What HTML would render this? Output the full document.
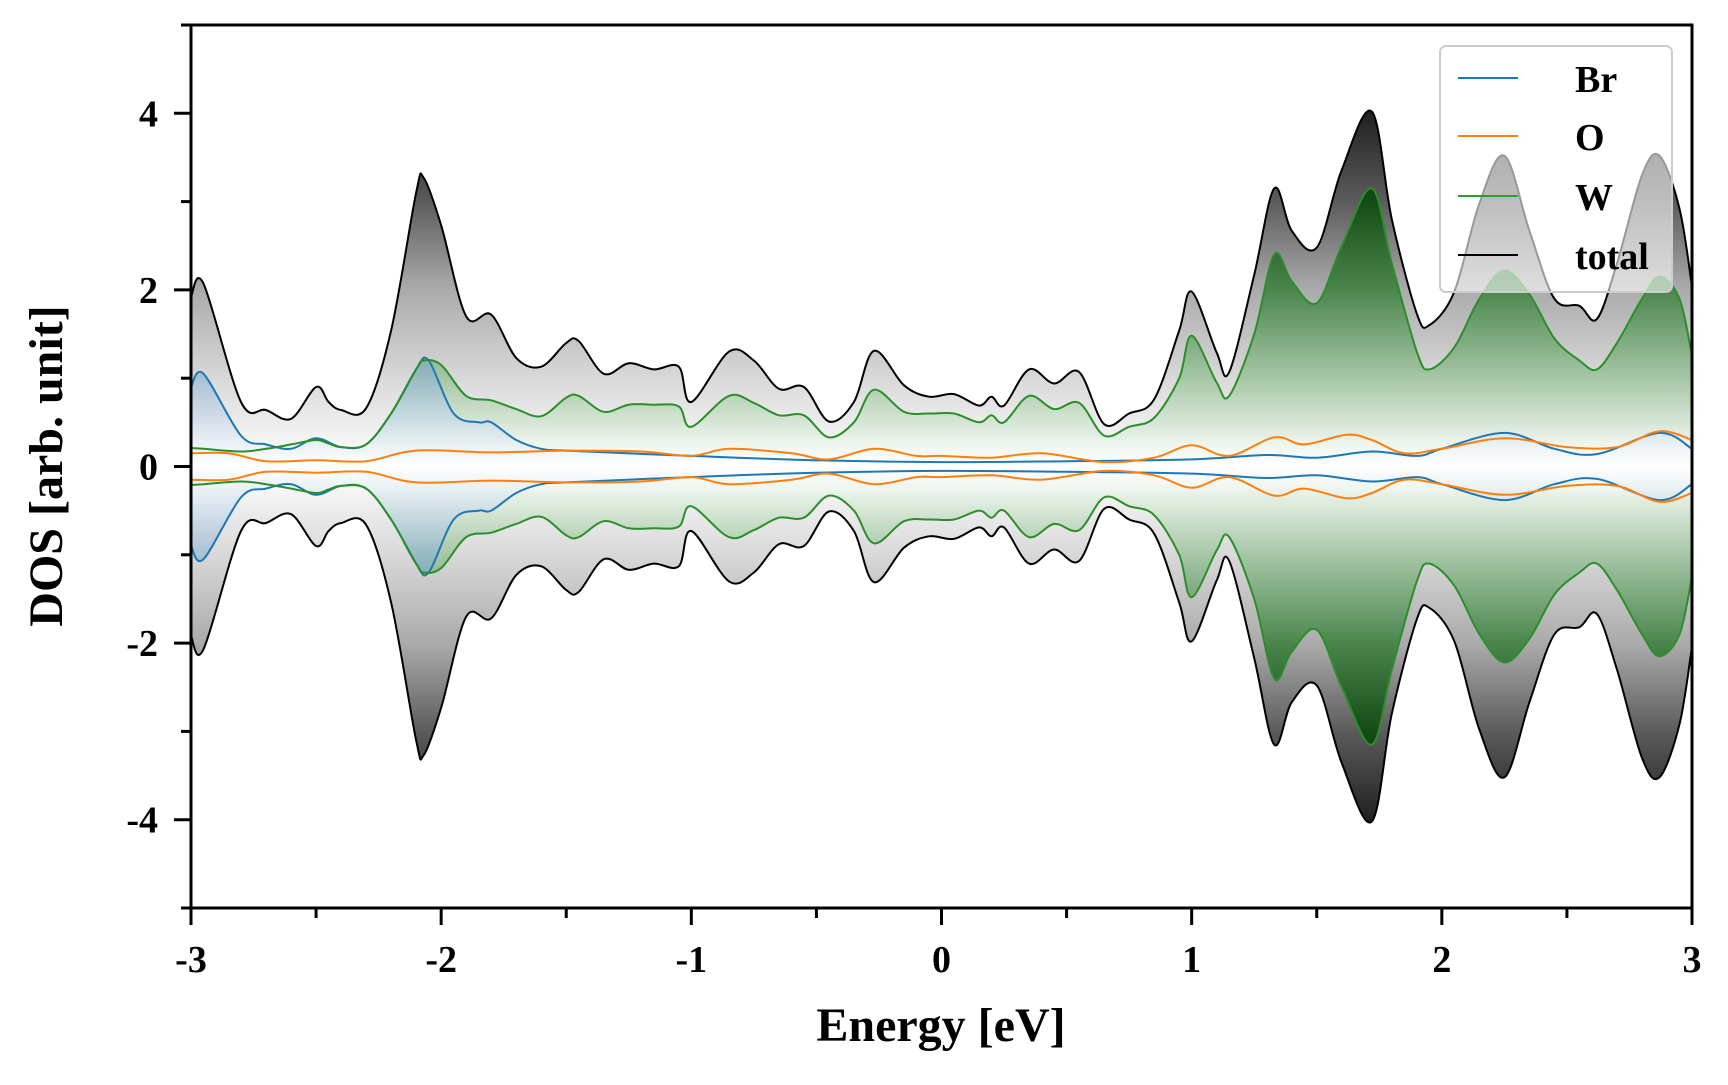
<!DOCTYPE html>
<html><head><meta charset="utf-8"><style>
html,body{margin:0;padding:0;background:#fff}
svg text{font-family:"Liberation Serif",serif;font-weight:bold}
</style></head><body>
<svg id="chart" width="1728" height="1080" viewBox="0 0 1728 1080" xmlns="http://www.w3.org/2000/svg">
<defs>
<clipPath id="plotclip"><rect x="191" y="25" width="1501" height="883"/></clipPath>
</defs>
<g id="fills" clip-path="url(#plotclip)"></g>
<g id="lines" clip-path="url(#plotclip)"></g>
<g id="axes"></g>
<text x="941" y="1041" font-size="48" text-anchor="middle">Energy [eV]</text>
<text transform="translate(62,466) rotate(-90)" font-size="48" text-anchor="middle">DOS [arb. unit]</text>
<g>
<rect x="1440" y="46" width="232" height="246" rx="6" fill="rgba(255,255,255,0.6)" stroke="#ccc" stroke-width="2"/>
<g><line x1="1458" x2="1518" y1="78" y2="78" stroke="#1f77b4" stroke-width="2"/><text x="1575" y="92" font-size="38">Br</text></g>
<g><line x1="1458" x2="1518" y1="136" y2="136" stroke="#ff7f0e" stroke-width="2"/><text x="1575" y="150" font-size="38">O</text></g>
<g><line x1="1458" x2="1518" y1="196" y2="196" stroke="#2ca02c" stroke-width="2"/><text x="1575" y="210" font-size="38">W</text></g>
<g><line x1="1458" x2="1518" y1="255" y2="255" stroke="#000" stroke-width="2"/><text x="1575" y="269" font-size="38">total</text></g>
</g>
</svg>
<script>
const energies=[-3,-2.95,-2.8,-2.7,-2.6,-2.5,-2.45,-2.4,-2.3,-2.2,-2.1,-2.07,-2.0,-1.9,-1.8,-1.7,-1.6,-1.5,-1.45,-1.35,-1.25,-1.15,-1.05,-1.0,-0.85,-0.75,-0.65,-0.55,-0.45,-0.35,-0.27,-0.15,-0.05,0.05,0.15,0.2,0.25,0.35,0.45,0.55,0.65,0.75,0.85,0.95,1.0,1.1,1.15,1.25,1.33,1.4,1.5,1.6,1.72,1.8,1.9,1.95,2.05,2.15,2.25,2.35,2.45,2.55,2.62,2.7,2.8,2.87,2.95,3.0];
const totalDos=[1.92,2.07,0.73,0.64,0.54,0.9,0.73,0.64,0.66,1.54,3.1,3.27,2.73,1.7,1.72,1.23,1.13,1.4,1.42,1.05,1.17,1.1,1.13,0.73,1.3,1.2,0.88,0.9,0.51,0.73,1.31,0.92,0.79,0.82,0.69,0.79,0.69,1.1,0.94,1.07,0.48,0.6,0.76,1.54,1.98,1.29,1.07,2.17,3.15,2.67,2.48,3.36,4.02,2.8,1.73,1.6,1.98,2.98,3.52,2.67,1.9,1.82,1.67,2.3,3.3,3.52,2.92,2.04];
const wDos=[0.21,0.2,0.17,0.2,0.25,0.3,0.26,0.22,0.25,0.6,1.1,1.2,1.15,0.8,0.75,0.65,0.57,0.78,0.8,0.62,0.7,0.7,0.68,0.45,0.8,0.72,0.58,0.58,0.33,0.5,0.87,0.62,0.6,0.6,0.5,0.58,0.5,0.8,0.65,0.72,0.35,0.45,0.55,1.0,1.48,0.95,0.8,1.5,2.4,2.1,1.85,2.5,3.15,2.3,1.3,1.1,1.35,1.9,2.22,1.95,1.45,1.2,1.1,1.4,1.9,2.15,1.9,1.25];
const brEnergies=[-3,-2.95,-2.8,-2.7,-2.6,-2.5,-2.4,-2.3,-2.2,-2.1,-2.05,-1.95,-1.85,-1.8,-1.7,-1.6,-1.5,-1.0,-0.5,0,0.5,1.0,1.3,1.5,1.72,1.9,2.0,2.25,2.45,2.62,2.87,3.0];
const brDos=[0.9,1.05,0.35,0.25,0.2,0.32,0.22,0.25,0.6,1.1,1.2,0.6,0.5,0.5,0.3,0.2,0.18,0.12,0.07,0.05,0.06,0.08,0.13,0.1,0.17,0.12,0.2,0.38,0.2,0.14,0.38,0.2];
const oEnergies=[-3,-2.85,-2.7,-2.5,-2.3,-2.1,-1.8,-1.5,-1.2,-1.0,-0.85,-0.6,-0.45,-0.27,-0.1,0,0.2,0.4,0.65,0.85,1.0,1.15,1.33,1.45,1.62,1.72,1.85,2.0,2.25,2.5,2.7,2.87,3.0];
const oDos=[0.15,0.15,0.06,0.07,0.06,0.18,0.16,0.18,0.17,0.12,0.2,0.15,0.08,0.2,0.12,0.12,0.1,0.15,0.05,0.1,0.24,0.12,0.33,0.25,0.36,0.3,0.15,0.2,0.32,0.22,0.22,0.4,0.3];
const xTicks=[-3,-2,-1,0,1,2,3];
const xTickLabels=["-3","-2","-1","0","1","2","3"];
const yTicks=[-4,-2,0,2,4];
const yTickLabels=["-4","-2","0","2","4"];
const xMinor=[-2.5,-1.5,-0.5,0.5,1.5,2.5];
const yMinor=[-5,-3,-1,1,3,5];

const NS="http://www.w3.org/2000/svg";
const X0=191,X1=1692,Y0=908,Y1=25;
function xs(v){return X0+(v+3)/6*(X1-X0);}
function ys(v){return Y0-(v+5)/10*(Y0-Y1);}
function mk(tag,attrs,parent){const e=document.createElementNS(NS,tag);for(const k in attrs)e.setAttribute(k,attrs[k]);parent.appendChild(e);return e;}
const svg=document.getElementById('chart');
const defs=svg.querySelector('defs');
function grad(id,stops){const g=mk('linearGradient',{id:id,gradientUnits:'userSpaceOnUse',x1:0,x2:0,y1:ys(4.2),y2:ys(-4.2)},defs);
 stops.forEach(s=>mk('stop',{offset:s[0],'stop-color':s[1]},g));}
grad('gGray',[[0,'#151515'],[0.14,'#5a5a5a'],[0.26,'#aaaaaa'],[0.38,'#d8d8d8'],[0.47,'#f6f6f6'],[0.5,'#ffffff'],[0.53,'#f6f6f6'],[0.62,'#d8d8d8'],[0.74,'#aaaaaa'],[0.86,'#5a5a5a'],[1,'#151515']]);
grad('gGreen',[[0,'#0a300a'],[0.14,'#134a15'],[0.26,'#4a854c'],[0.38,'#a5c6a5'],[0.47,'#eef5ee'],[0.5,'#ffffff'],[0.53,'#eef5ee'],[0.62,'#a5c6a5'],[0.74,'#4a854c'],[0.86,'#134a15'],[1,'#0a300a']]);
grad('gBlue',[[0.26,'#3f7fb0'],[0.38,'#8fb3d2'],[0.47,'#e6eef6'],[0.5,'#ffffff'],[0.53,'#e6eef6'],[0.62,'#8fb3d2'],[0.74,'#3f7fb0']]);

function pts(E,V,sign){return E.map((e,i)=>[xs(e),ys(sign*V[i])]);}
function spline(p,start){let d=start?('M'+p[0][0].toFixed(1)+','+p[0][1].toFixed(1)):('L'+p[0][0].toFixed(1)+','+p[0][1].toFixed(1));
 for(let i=0;i<p.length-1;i++){const a=p[Math.max(i-1,0)],b=p[i],c=p[i+1],e=p[Math.min(i+2,p.length-1)];
  const c1=[b[0]+(c[0]-a[0])/6,b[1]+(c[1]-a[1])/6],c2=[c[0]-(e[0]-b[0])/6,c[1]-(e[1]-b[1])/6];
  d+='C'+c1[0].toFixed(1)+','+c1[1].toFixed(1)+' '+c2[0].toFixed(1)+','+c2[1].toFixed(1)+' '+c[0].toFixed(1)+','+c[1].toFixed(1);}
 return d;}
const fills=document.getElementById('fills'),lines=document.getElementById('lines');
function area(E,V,fill,name,op){const up=pts(E,V,1),dn=pts(E,V,-1).reverse();
 const p=mk('path',{d:spline(up,true)+spline(dn,false)+'Z',fill:fill,'fill-opacity':op},fills);
 
 }
area(energies,totalDos,'url(#gGray)','total-fill',1);
area(energies,wDos,'url(#gGreen)','w-fill',1);
area(brEnergies,brDos,'url(#gBlue)','br-fill',0.65);
function line(E,V,color,name){[1,-1].forEach(s=>{const p=mk('path',{d:spline(pts(E,V,s),true),fill:'none',stroke:color,'stroke-width':2},lines);
 
 });}
line(brEnergies,brDos,'#1f77b4','br-line');
line(oEnergies,oDos,'#ff7f0e','o-line');
line(energies,wDos,'#2a8f2a','w-line');
line(energies,totalDos,'#000','total-line');

const ax=document.getElementById('axes');
const fr=mk('rect',{x:X0,y:Y1,width:X1-X0,height:Y0-Y1,fill:'none',stroke:'#000','stroke-width':3},ax);


xTicks.forEach((v,i)=>{const t=mk('line',{x1:xs(v),x2:xs(v),y1:Y0,y2:Y0+17,stroke:'#000','stroke-width':3},ax);
 
 
 const l=mk('text',{x:xs(v),y:972,'font-size':38,'text-anchor':'middle'},ax);l.textContent=xTickLabels[i];
 
 });
xMinor.forEach(v=>{const t=mk('line',{x1:xs(v),x2:xs(v),y1:Y0,y2:Y0+10,stroke:'#000','stroke-width':3},ax);
 
 });
yTicks.forEach((v,i)=>{const t=mk('line',{x1:X0-17,x2:X0,y1:ys(v),y2:ys(v),stroke:'#000','stroke-width':3},ax);
 
 
 const l=mk('text',{x:158,y:ys(v)+13,'font-size':38,'text-anchor':'end'},ax);l.textContent=yTickLabels[i];
 
 });
yMinor.forEach(v=>{const t=mk('line',{x1:X0-10,x2:X0,y1:ys(v),y2:ys(v),stroke:'#000','stroke-width':3},ax);
 
 });
</script>
</body></html>
